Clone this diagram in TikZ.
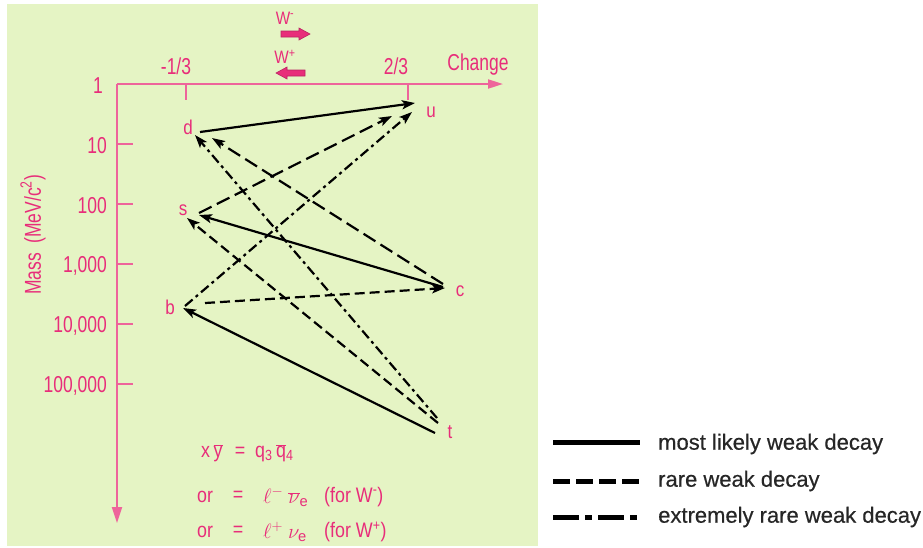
\documentclass[tikz,border=0pt]{standalone}
\usepackage{fontspec}
\setmainfont{Liberation Sans}
\newfontfamily\nsans[FakeStretch=0.85]{Liberation Sans}
\newfontfamily\tsans[FakeStretch=0.76]{Liberation Sans}
\newfontfamily\legfont[FakeBold=0.5]{Liberation Sans}
\usetikzlibrary{arrows.meta}
\definecolor{bg}{RGB}{229,244,196}
\definecolor{pk}{RGB}{232,45,122}
\definecolor{pkl}{RGB}{238,100,155}
\begin{document}
\begin{tikzpicture}[x=1pt,y=-1pt,
  lbl/.style={text=pk, font=\tsans\fontsize{23}{27}\selectfont, inner sep=0pt},
  flbl/.style={text=pk, font=\nsans\fontsize{21}{25}\selectfont, inner sep=0pt},
  qlbl/.style={text=pk, font=\nsans\fontsize{20}{24}\selectfont, inner sep=0pt},
  axisln/.style={draw=pkl, line width=2pt},
  tick/.style={draw=pkl, line width=1.4pt},
  conn/.style={draw=black, line width=2.2pt, -{Stealth[length=13pt,width=9pt,inset=3pt]}},
  solidc/.style={conn},
  longdash/.style={conn, dash pattern=on 14pt off 6pt},
  shortdash/.style={conn, dash pattern=on 10pt off 5pt},
  dashdot/.style={conn, dash pattern=on 10pt off 4pt on 3pt off 4pt},
  legline/.style={draw=black, line width=5pt},
  legtext/.style={text=black!85, font=\legfont\fontsize{22}{26}\selectfont, inner sep=0pt, anchor=west},
  warrow/.style={fill=pk, draw=pk!80!black, line width=0.6pt}
]
\useasboundingbox (0,0) rectangle (923,547);
\fill[bg] (7,4) rectangle (538,546);

% axes
\draw[axisln, -{Triangle[length=15pt,width=9pt]}] (117,84) coordinate (o) -- (503,84) coordinate (xend);
\draw[axisln, -{Triangle[length=16pt,width=10pt]}] (o) -- (117,523) coordinate (yend);
\draw[tick] (186,84) -- (186,100);
\draw[tick] (408,84) -- (408,100);
\foreach \yy in {144,204,264,324,384} \draw[tick] (117,\yy) -- (133,\yy);

% axis labels
\node[lbl] (t13) at (176,66) {-1/3};
\node[lbl] (t23) at (396,66) {2/3};
\node[lbl] (chg) at (478,65) {Change};
\node[lbl, anchor=east] (m1) at (103,86) {1};
\node[lbl, anchor=east] (m10) at (107,146) {10};
\node[lbl, anchor=east] (m100) at (107,206) {100};
\node[lbl, anchor=east] (m1k) at (107,266) {1,000};
\node[lbl, anchor=east] (m10k) at (107,326) {10,000};
\node[lbl, anchor=east] (m100k) at (107,386) {100,000};
\node[lbl, rotate=90] (mass) at (33,235) {Mass\ \ (MeV/c\textsuperscript{2})};

% W arrows
\node[text=pk, font=\nsans\fontsize{18}{20}\selectfont, inner sep=0pt] (wm) at (285,18) {W\textsuperscript{-}};
\node[text=pk, font=\nsans\fontsize{18}{20}\selectfont, inner sep=0pt] (wp) at (285,57) {W\textsuperscript{+}};
\filldraw[warrow] (281,31)--(299,31)--(299,28)--(310,34)--(299,40)--(299,37)--(281,37)--cycle;
\filldraw[warrow] (305,70)--(287,70)--(287,67)--(276,73)--(287,79)--(287,76)--(305,76)--cycle;

% quark labels
\node[qlbl] (d) at (188,127) {d};
\node[qlbl] (u) at (431,112) {u};
\node[qlbl] (s) at (183,210) {s};
\node[qlbl] (c) at (460,291) {c};
\node[qlbl] (b) at (170,307) {b};
\node[qlbl] (t) at (450,432) {t};

% connector end points
\coordinate (dA) at (200,132);
\coordinate (uA) at (415,103);
\coordinate (sA) at (199,213);
\coordinate (uB) at (392,116);
\coordinate (bA) at (185,306);
\coordinate (uC) at (412,112);
\coordinate (cA) at (443,284);
\coordinate (dB) at (212,138);
\coordinate (tA) at (437,418);
\coordinate (dC) at (195,135);
\coordinate (cB) at (443,287);
\coordinate (sB) at (199,215);
\coordinate (tB) at (438,423);
\coordinate (sC) at (187,218);
\coordinate (bB) at (205,303);
\coordinate (cC) at (445,288);
\coordinate (tC) at (435,433);
\coordinate (bC) at (183,308);

\draw[solidc] (dA) -- (uA);
\draw[longdash] (sA) -- (uB);
\draw[dashdot] (bA) -- (uC);
\draw[longdash] (cA) -- (dB);
\draw[dashdot] (tA) -- (dC);
\draw[solidc] (cB) -- (sB);
\draw[shortdash] (tB) -- (sC);
\draw[shortdash] (bB) -- (cC);
\draw[solidc] (tC) -- (bC);

% formula
\node[flbl, anchor=west] (f1a) at (201,453) {x\,$\overline{\hbox{y}}$};
\node[flbl] (f1b) at (240,452) {=};
\node[flbl, anchor=west] (f1c) at (255,453) {q\textsubscript{3}\,$\overline{\hbox{q}}$\textsubscript{4}};
\node[flbl, anchor=west] (f2a) at (197,497) {or};
\node[flbl] (f2b) at (238,496) {=};
\node[flbl, anchor=west] (f2c) at (263,497) {$\ell^{-}\ \overline{\nu}_{\mathrm{e}}$};
\node[flbl, anchor=west] (f2d) at (324,497) {(for W\textsuperscript{-})};
\node[flbl, anchor=west] (f3a) at (197,532) {or};
\node[flbl] (f3b) at (238,531) {=};
\node[flbl, anchor=west] (f3c) at (263,532) {$\ell^{+}\ \nu_{\mathrm{e}}$};
\node[flbl, anchor=west] (f3d) at (324,532) {(for W\textsuperscript{+})};

% legend
\coordinate (l1a) at (553,442); \coordinate (l1b) at (640,442);
\coordinate (l2a) at (553,481); \coordinate (l2b) at (640,481);
\coordinate (l3a) at (553,517); \coordinate (l3b) at (640,517);
\draw[legline] (l1a) -- (l1b);
\draw[legline, dash pattern=on 17pt off 6pt] (l2a) -- (l2b);
\draw[legline, dash pattern=on 26pt off 6pt on 7pt off 6pt] (l3a) -- (l3b);
\node[legtext] (lt1) at (658,444) {most likely weak decay};
\node[legtext] (lt2) at (658,481) {rare weak decay};
\node[legtext] (lt3) at (658,517) {extremely rare weak decay};
\end{tikzpicture}
\end{document}
